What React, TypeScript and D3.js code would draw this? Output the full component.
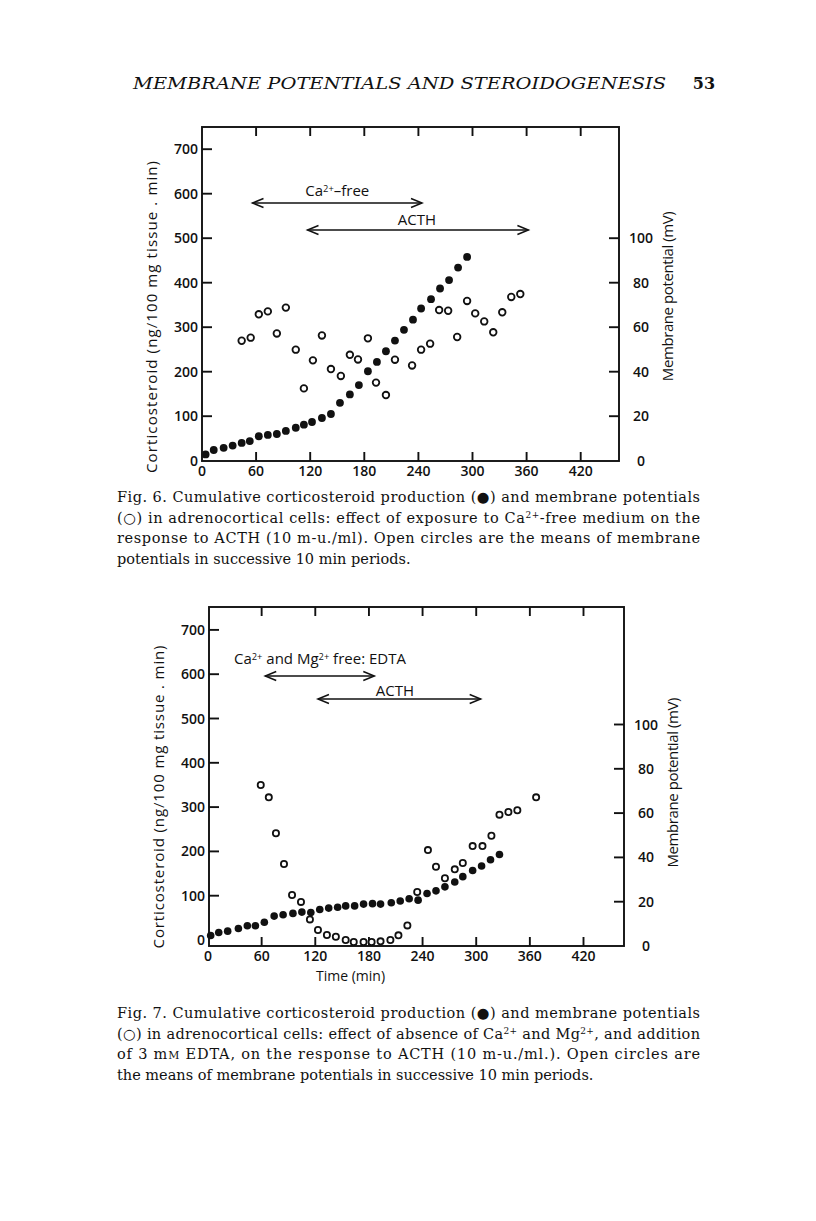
import React from 'react';
import * as d3 from 'd3';

// Fig. 6: Ca2+-free medium, then ACTH
const fig6SteroidTime = [4, 13, 24, 34, 44, 53, 63, 73, 83, 93, 104, 113, 122, 133, 143, 153, 164, 174, 184, 194, 204, 214, 224, 234, 243, 254, 264, 274, 284, 294];
const fig6Steroid = [14, 24, 29, 34, 40, 44, 55, 58, 60, 67, 74, 81, 87, 96, 105, 130, 149, 170, 201, 222, 246, 270, 294, 317, 342, 363, 387, 406, 434, 458];
const fig6PotentialTime = [44, 54, 63, 73, 83, 93, 104, 113, 123, 133, 143, 154, 164, 173, 184, 193, 204, 214, 233, 243, 253, 263, 273, 283, 294, 303, 313, 323, 333, 343, 353];
const fig6Potential = [53.9, 55.3, 65.8, 67.1, 57.2, 68.8, 49.9, 32.5, 45.1, 56.3, 41.2, 38.1, 47.6, 45.5, 55, 35.1, 29.5, 45.4, 42.8, 49.9, 52.6, 67.7, 67.4, 55.6, 71.8, 66.2, 62.6, 57.7, 66.7, 73.6, 74.9];

// Fig. 7: Ca2+ and Mg2+ free + EDTA, then ACTH
const fig7SteroidTime = [3, 12, 22, 34, 44, 53, 63, 74, 84, 95, 105, 115, 125, 135, 145, 154, 164, 174, 184, 193, 205, 215, 225, 235, 245, 255, 265, 276, 285, 296, 306, 316, 326];
const fig7Steroid = [10, 17, 20, 26, 32, 32, 40, 54, 57, 60, 63, 62, 69, 72, 74, 77, 77, 81, 82, 81, 84, 88, 93, 90, 105, 111, 120, 131, 143, 157, 167, 181, 193];
const fig7PotentialTime = [59, 68, 76, 85, 94, 104, 114, 123, 133, 143, 154, 163, 174, 183, 193, 204, 213, 223, 234, 246, 255, 265, 276, 285, 296, 307, 317, 326, 336, 346, 367];
const fig7Potential = [72.7, 67.1, 50.9, 37, 23, 19.9, 12, 7.2, 5, 4.2, 2.7, 1.8, 1.8, 1.8, 2.1, 2.7, 4.8, 9.3, 24.4, 43.3, 35.8, 30.6, 34.6, 37.5, 45.1, 45.1, 49.8, 59.3, 60.5, 61.3, 67.1];

const timeTicks = [0, 60, 120, 180, 240, 300, 360, 420];
const steroidTicks = [0, 100, 200, 300, 400, 500, 600, 700];
const potentialTicks = [0, 20, 40, 60, 80, 100];

// treatment periods (min)
const fig6Periods = [{ from: 56, to: 244 }, { from: 117, to: 362 }];
const fig7Periods = [{ from: 64, to: 186 }, { from: 123, to: 305 }];

const SANS = "'Open Sans', 'Noto Sans', sans-serif";
const SERIF = "'DejaVu Serif', serif";
const INK = '#111';

const sup = (s: string) => (
  <tspan fontSize="0.62em" dy="-0.45em">{s}</tspan>
);
const unsup = (s: string) => (
  <tspan dy="0.28em">{s}</tspan>
);

const Arrow = ({ x1, x2, y }: any) => {
  const hx = 11, hy = 4.5;
  return (
    <g stroke={INK} strokeWidth={1.5} fill="none">
      <line x1={x1} x2={x2} y1={y} y2={y} />
      <polyline points={`${x1 + hx},${y - hy} ${x1},${y} ${x1 + hx},${y + hy}`} />
      <polyline points={`${x2 - hx},${y - hy} ${x2},${y} ${x2 - hx},${y + hy}`} />
    </g>
  );
};

const Panel = ({ g, steroidT, steroid, potT, pot, rFill, rOpen, children, timeLabel }: any) => {
  const x = d3.scaleLinear().domain([0, 420]).range([g.x0, g.x420]);
  const yL = d3.scaleLinear().domain([0, 700]).range([g.yL0, g.yL700]);
  const yR = d3.scaleLinear().domain([0, 100]).range([g.yR0, g.yR100]);
  const tick = 9;
  return (
    <g fontFamily={SANS} fill={INK}>
      <rect x={g.left} y={g.top} width={g.right - g.left} height={g.bottom - g.top}
        fill="none" stroke={INK} strokeWidth={1.9} />
      {timeTicks.slice(1).map(t => (
        <g key={t} stroke={INK} strokeWidth={1.9}>
          <line x1={x(t)} x2={x(t)} y1={g.top} y2={g.top + tick} />
          <line x1={x(t)} x2={x(t)} y1={g.bottom} y2={g.bottom - tick} />
        </g>
      ))}
      {timeTicks.map(t => (
        <text key={t} x={x(t)} y={g.bottom + 15} textAnchor="middle" fontSize={14} fontWeight={600}>{t}</text>
      ))}
      {steroidTicks.map(v => (
        <g key={v}>
          {v > 0 && <line x1={g.left} x2={g.left + tick + 1} y1={yL(v)} y2={yL(v)} stroke={INK} strokeWidth={1.9} />}
          <text x={g.left - 4} y={yL(v) + 5} textAnchor="end" fontSize={14} fontWeight={600}>{v}</text>
        </g>
      ))}
      {potentialTicks.map(v => (
        <g key={v}>
          {v > 0 && <line x1={g.right} x2={g.right - tick - 1} y1={yR(v)} y2={yR(v)} stroke={INK} strokeWidth={1.9} />}
          <text x={g.right + 22} y={yR(v) + 5} textAnchor="middle" fontSize={14} fontWeight={600}>{v}</text>
        </g>
      ))}
      <text transform={`translate(${g.left - 45},${(g.yL0 + g.yL700) / 2 + 12}) rotate(-90)`}
        textAnchor="middle" fontSize={15} textLength={g.labelLen} lengthAdjust="spacing">Corticosteroid (ng/100 mg tissue . min)</text>
      <text transform={`translate(${g.right + 54},${g.yR100 + 58}) rotate(-90)`}
        textAnchor="middle" fontSize={15} textLength={170} lengthAdjust="spacing">Membrane potential (mV)</text>
      {timeLabel && (
        <text x={(g.left + g.right) / 2 - 66} y={g.bottom + 35} textAnchor="middle" fontSize={14}>Time (min)</text>
      )}
      {steroid.map((v: number, i: number) => (
        <circle key={'f' + i} cx={x(steroidT[i])} cy={yL(v)} r={rFill} fill={INK} />
      ))}
      {pot.map((v: number, i: number) => (
        <circle key={'o' + i} cx={x(potT[i])} cy={yR(v)} r={rOpen} fill="white" stroke={INK} strokeWidth={1.8} />
      ))}
      {children(x)}
    </g>
  );
};

const Caption = ({ lines, y0, justifyCount }: any) => (
  <g fontFamily={SERIF} fontSize={14.5} fill={INK}>
    {lines.map((l: any, i: number) => (
      <text key={i} x={117} y={y0 + i * 20.5}
        {...(i < justifyCount ? { textLength: 583, lengthAdjust: 'spacing' } : {})}>{l}</text>
    ))}
  </g>
);

const fig6Geom = { x0: 202, x420: 580.7, left: 202, right: 619, top: 127, bottom: 461, yL0: 460.7, yL700: 149.2, yR0: 460.7, yR100: 238.2, labelLen: 312 };
const fig7Geom = { x0: 208, x420: 583.5, left: 209, right: 624, top: 607, bottom: 946, yL0: 940, yL700: 629.9, yR0: 946, yR100: 724.5, labelLen: 303 };

export default function App() {
  return (
    <svg width={816} height={1221} viewBox="0 0 816 1221"
      style={{ position: 'absolute', left: 0, top: 0, background: 'white' }}>
      <rect width={816} height={1221} fill="white" />
      <text x={133} y={89} fontFamily={SERIF} fontStyle="italic" fontSize={17} fill={INK}
        textLength={533} lengthAdjust="spacingAndGlyphs">MEMBRANE POTENTIALS AND STEROIDOGENESIS</text>
      <text x={704} y={89} fontFamily={SERIF} fontWeight="bold" fontSize={16} fill={INK} textAnchor="middle">53</text>

      <Panel g={fig6Geom} steroidT={fig6SteroidTime} steroid={fig6Steroid}
        potT={fig6PotentialTime} pot={fig6Potential} rFill={3.9} rOpen={3.3}>
        {(x: any) => (
          <g>
            <text x={(x(fig6Periods[0].from) + x(fig6Periods[0].to)) / 2} y={196} textAnchor="middle" fontSize={15}>
              Ca{sup('2+')}{unsup('–free')}
            </text>
            <Arrow x1={x(fig6Periods[0].from)} x2={x(fig6Periods[0].to)} y={203} />
            <text x={(x(fig6Periods[1].from) + x(fig6Periods[1].to)) / 2 - 1} y={225} textAnchor="middle" fontSize={15}>ACTH</text>
            <Arrow x1={x(fig6Periods[1].from)} x2={x(fig6Periods[1].to)} y={230} />
          </g>
        )}
      </Panel>

      <Caption y0={502} justifyCount={3} lines={[
        'Fig. 6. Cumulative corticosteroid production (●) and membrane potentials',
        <>(○) in adrenocortical cells: effect of exposure to Ca{sup('2+')}{unsup('-free medium on the')}</>,
        'response to ACTH (10 m-u./ml). Open circles are the means of membrane',
        'potentials in successive 10 min periods.',
      ]} />

      <Panel g={fig7Geom} steroidT={fig7SteroidTime} steroid={fig7Steroid}
        potT={fig7PotentialTime} pot={fig7Potential} rFill={3.8} rOpen={3.1} timeLabel>
        {(x: any) => (
          <g>
            <text x={234} y={664} fontSize={15}>
              Ca{sup('2+')}{unsup(' and Mg')}{sup('2+')}{unsup(' free: EDTA')}
            </text>
            <Arrow x1={x(fig7Periods[0].from)} x2={x(fig7Periods[0].to)} y={676} />
            <text x={395} y={696} textAnchor="middle" fontSize={15}>ACTH</text>
            <Arrow x1={x(fig7Periods[1].from)} x2={x(fig7Periods[1].to)} y={699} />
          </g>
        )}
      </Panel>

      <Caption y0={1018} justifyCount={3} lines={[
        'Fig. 7. Cumulative corticosteroid production (●) and membrane potentials',
        <>(○) in adrenocortical cells: effect of absence of Ca{sup('2+')}{unsup(' and Mg')}{sup('2+')}{unsup(', and addition')}</>,
        <>of 3 m<tspan fontSize="0.75em">M</tspan> EDTA, on the response to ACTH (10 m-u./ml.). Open circles are</>,
        'the means of membrane potentials in successive 10 min periods.',
      ]} />
    </svg>
  );
}
